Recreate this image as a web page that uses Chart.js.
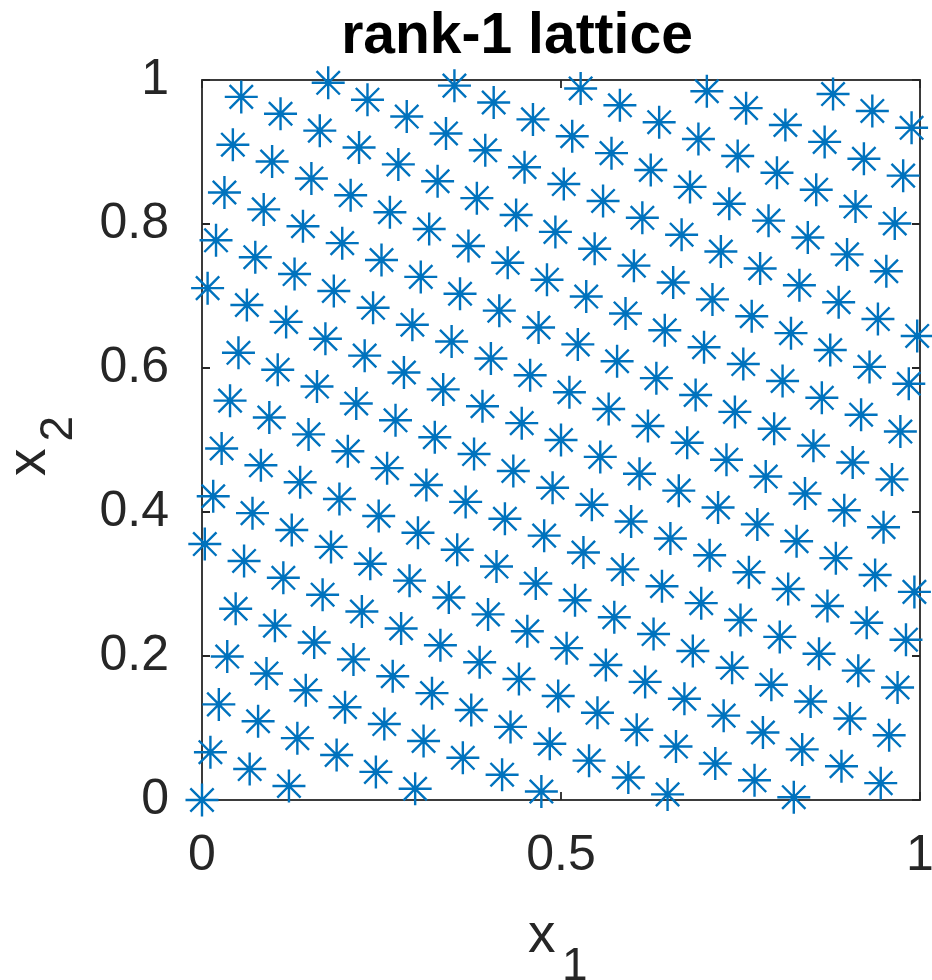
<!DOCTYPE html>
<html>
<head>
<meta charset="utf-8">
<script src="https://cdn.jsdelivr.net/npm/chart.js@4/dist/chart.umd.min.js"></script>
<style>
html,body{margin:0;padding:0;background:#ffffff;}
#c{display:block;}
</style>
</head>
<body>
<canvas id="c" width="932" height="980"></canvas>
<script>
// Rank-1 lattice points: point k = (x1Index[k]/N, x2Index[k]/N)
const N = 256;
const x1Index = [
  0,1,2,3,4,5,6,7,8,9,10,11,12,13,14,15,
  16,17,18,19,20,21,22,23,24,25,26,27,28,29,30,31,
  32,33,34,35,36,37,38,39,40,41,42,43,44,45,46,47,
  48,49,50,51,52,53,54,55,56,57,58,59,60,61,62,63,
  64,65,66,67,68,69,70,71,72,73,74,75,76,77,78,79,
  80,81,82,83,84,85,86,87,88,89,90,91,92,93,94,95,
  96,97,98,99,100,101,102,103,104,105,106,107,108,109,110,111,
  112,113,114,115,116,117,118,119,120,121,122,123,124,125,126,127,
  128,129,130,131,132,133,134,135,136,137,138,139,140,141,142,143,
  144,145,146,147,148,149,150,151,152,153,154,155,156,157,158,159,
  160,161,162,163,164,165,166,167,168,169,170,171,172,173,174,175,
  176,177,178,179,180,181,182,183,184,185,186,187,188,189,190,191,
  192,193,194,195,196,197,198,199,200,201,202,203,204,205,206,207,
  208,209,210,211,212,213,214,215,216,217,218,219,220,221,222,223,
  224,225,226,227,228,229,230,231,232,233,234,235,236,237,238,239,
  240,241,242,243,244,245,246,247,248,249,250,251,252,253,254,255
];
const x2Index = [
  0,91,182,17,108,199,34,125,216,51,142,233,68,159,250,85,
  176,11,102,193,28,119,210,45,136,227,62,153,244,79,170,5,
  96,187,22,113,204,39,130,221,56,147,238,73,164,255,90,181,
  16,107,198,33,124,215,50,141,232,67,158,249,84,175,10,101,
  192,27,118,209,44,135,226,61,152,243,78,169,4,95,186,21,
  112,203,38,129,220,55,146,237,72,163,254,89,180,15,106,197,
  32,123,214,49,140,231,66,157,248,83,174,9,100,191,26,117,
  208,43,134,225,60,151,242,77,168,3,94,185,20,111,202,37,
  128,219,54,145,236,71,162,253,88,179,14,105,196,31,122,213,
  48,139,230,65,156,247,82,173,8,99,190,25,116,207,42,133,
  224,59,150,241,76,167,2,93,184,19,110,201,36,127,218,53,
  144,235,70,161,252,87,178,13,104,195,30,121,212,47,138,229,
  64,155,246,81,172,7,98,189,24,115,206,41,132,223,58,149,
  240,75,166,1,92,183,18,109,200,35,126,217,52,143,234,69,
  160,251,86,177,12,103,194,29,120,211,46,137,228,63,154,245,
  80,171,6,97,188,23,114,205,40,131,222,57,148,239,74,165
];
const xTicks = [0, 0.5, 1];
const yTicks = [0, 0.2, 0.4, 0.6, 0.8, 1];
const xTickLabels = ['0', '0.5', '1'];
const yTickLabels = ['0', '0.2', '0.4', '0.6', '0.8', '1'];
const titleText = 'rank-1 lattice';
const xLabelMain = 'x', xLabelSub = '1';
const yLabelMain = 'x', yLabelSub = '2';

const FONT = '"Liberation Sans", Arial, Helvetica, sans-serif';
const AXC = '#262626';

const points = x1Index.map((k, i) => ({ x: k / N, y: x2Index[i] / N }));

// markers may overhang the axes (as in the reference), so do not reserve room for them
const ScatterCtrl = Chart.registry.getController('scatter');
ScatterCtrl.prototype.getMaxOverflow = function () { return 0; };

const framePlugin = {
  id: 'frame',
  beforeDatasetsDraw(chart) {
    const { ctx, chartArea: a, scales } = chart;
    const sx = scales.x, sy = scales.y;
    ctx.save();
    ctx.strokeStyle = AXC;
    ctx.lineWidth = 1.8;
    ctx.strokeRect(a.left, a.top, a.right - a.left, a.bottom - a.top);
    const L = 8;
    ctx.beginPath();
    xTicks.forEach(v => {
      const p = sx.getPixelForValue(v);
      ctx.moveTo(p, a.bottom); ctx.lineTo(p, a.bottom - L);
      ctx.moveTo(p, a.top); ctx.lineTo(p, a.top + L);
    });
    yTicks.forEach(v => {
      const p = sy.getPixelForValue(v);
      ctx.moveTo(a.left, p); ctx.lineTo(a.left + L, p);
      ctx.moveTo(a.right, p); ctx.lineTo(a.right - L, p);
    });
    ctx.stroke();
    ctx.restore();
  },
  afterDraw(chart) {
    const ctx = chart.ctx;
    ctx.save();
    // title
    ctx.fillStyle = '#000000';
    ctx.font = 'bold 57px ' + FONT;
    ctx.textAlign = 'center';
    ctx.textBaseline = 'alphabetic';
    ctx.fillText(titleText, 517, 53);
    // x label
    ctx.fillStyle = AXC;
    ctx.textAlign = 'left';
    ctx.font = '55px ' + FONT;
    ctx.fillText(xLabelMain, 528, 952);
    ctx.font = '46px ' + FONT;
    ctx.fillText(xLabelSub, 562, 980);
    // y label (rotated)
    ctx.translate(45, 476);
    ctx.rotate(-Math.PI / 2);
    ctx.font = '55px ' + FONT;
    ctx.fillText(yLabelMain, 0, 0);
    ctx.font = '46px ' + FONT;
    ctx.fillText(yLabelSub, 34.5, 26.7);
    ctx.restore();
  }
};

new Chart(document.getElementById('c'), {
  type: 'scatter',
  data: {
    datasets: [{
      data: points,
      pointStyle: 'star',
      pointRadius: 16.5,
      pointHoverRadius: 16.5,
      pointBorderWidth: 2.4,
      pointBorderColor: '#0072BD',
      pointBackgroundColor: '#0072BD',
      showLine: false,
      clip: false
    }]
  },
  options: {
    responsive: false,
    devicePixelRatio: 1,
    animation: false,
    events: [],
    layout: { padding: { top: 80, right: 12, left: 0, bottom: 0 } },
    plugins: {
      legend: { display: false },
      title: { display: false },
      tooltip: { enabled: false }
    },
    scales: {
      x: {
        type: 'linear',
        position: 'bottom',
        min: 0, max: 1,
        afterBuildTicks: s => { s.ticks = xTicks.map(v => ({ value: v })); },
        afterFit: s => { s.height = 180; s.paddingLeft = 0; s.paddingRight = 0; },
        grid: { display: false, drawTicks: false },
        border: { display: false },
        ticks: {
          autoSkip: false,
          maxRotation: 0,
          padding: 26,
          color: AXC,
          font: { family: FONT, size: 50 },
          callback: (v) => xTickLabels[xTicks.indexOf(v)] ?? String(v)
        }
      },
      y: {
        type: 'linear',
        position: 'left',
        min: 0, max: 1,
        afterBuildTicks: s => { s.ticks = yTicks.map(v => ({ value: v })); },
        afterFit: s => { s.width = 202; s.paddingTop = 0; s.paddingBottom = 0; },
        grid: { display: false, drawTicks: false },
        border: { display: false },
        ticks: {
          autoSkip: false,
          padding: 33,
          color: AXC,
          font: { family: FONT, size: 50 },
          callback: (v) => yTickLabels[yTicks.indexOf(v)] ?? String(v)
        }
      }
    }
  },
  plugins: [framePlugin]
});
</script>
</body>
</html>
